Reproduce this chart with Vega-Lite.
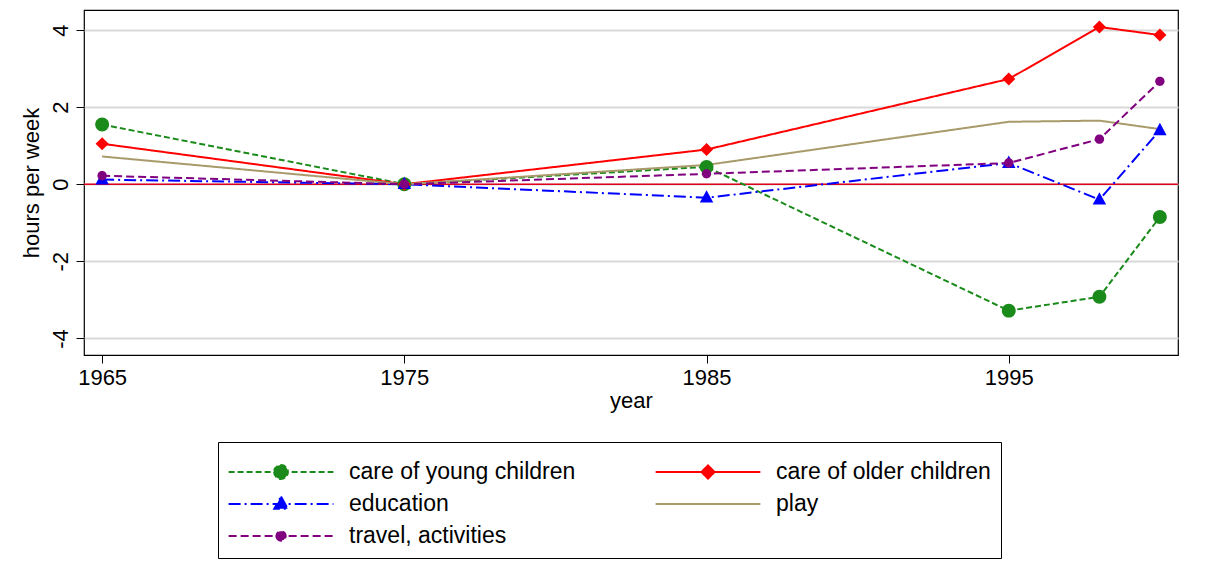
{
  "$schema": "https://vega.github.io/schema/vega-lite/v6.json",
  "width": 1094,
  "height": 345,
  "padding": {"left": 20, "top": 10, "right": 18, "bottom": 0},
  "background": "white",
  "config": {
    "font": "Liberation Sans",
    "view": {"stroke": "black", "strokeWidth": 1.2}
  },
  "data": {
    "values": [
      {"year": 1965, "series": "care of young children", "v": 1.55},
      {"year": 1975, "series": "care of young children", "v": 0},
      {"year": 1985, "series": "care of young children", "v": 0.45},
      {"year": 1995, "series": "care of young children", "v": -3.28},
      {"year": 1998, "series": "care of young children", "v": -2.92},
      {"year": 2000, "series": "care of young children", "v": -0.85},
      {"year": 1965, "series": "care of older children", "v": 1.05},
      {"year": 1975, "series": "care of older children", "v": 0},
      {"year": 1985, "series": "care of older children", "v": 0.9},
      {"year": 1995, "series": "care of older children", "v": 2.73},
      {"year": 1998, "series": "care of older children", "v": 4.08},
      {"year": 2000, "series": "care of older children", "v": 3.87},
      {"year": 1965, "series": "education", "v": 0.12},
      {"year": 1975, "series": "education", "v": 0},
      {"year": 1985, "series": "education", "v": -0.35},
      {"year": 1995, "series": "education", "v": 0.55},
      {"year": 1998, "series": "education", "v": -0.4},
      {"year": 2000, "series": "education", "v": 1.4},
      {"year": 1965, "series": "play", "v": 0.72},
      {"year": 1975, "series": "play", "v": 0},
      {"year": 1985, "series": "play", "v": 0.5},
      {"year": 1995, "series": "play", "v": 1.62},
      {"year": 1998, "series": "play", "v": 1.65},
      {"year": 2000, "series": "play", "v": 1.43},
      {"year": 1965, "series": "travel, activities", "v": 0.22},
      {"year": 1975, "series": "travel, activities", "v": 0},
      {"year": 1985, "series": "travel, activities", "v": 0.27},
      {"year": 1995, "series": "travel, activities", "v": 0.55},
      {"year": 1998, "series": "travel, activities", "v": 1.17},
      {"year": 2000, "series": "travel, activities", "v": 2.67}
    ]
  },
  "encoding": {
    "x": {
      "field": "year", "type": "quantitative",
      "scale": {"domain": [1964.4, 2000.6], "nice": false, "zero": false},
      "axis": {"values": [1965, 1975, 1985, 1995], "format": "d", "grid": false, "domain": false,
               "title": "year", "titleFontSize": 22, "titleFontWeight": "normal", "titlePadding": 2,
               "labelFontSize": 22, "labelColor": "black", "titleColor": "black",
               "tickColor": "black", "tickSize": 8, "labelPadding": 4}
    },
    "y": {
      "field": "v", "type": "quantitative",
      "scale": {"domain": [-4.43, 4.52], "nice": false},
      "axis": {"values": [-4, -2, 0, 2, 4], "grid": true, "gridColor": "#d9d9d9", "gridWidth": 2,
               "domain": false, "title": "hours per week", "titleFontSize": 22, "titleFontWeight": "normal",
               "labelFontSize": 22, "labelAngle": -90, "labelAlign": "center", "labelBaseline": "bottom",
               "labelExpr": "replace(datum.label, '\u2212', '-')",
               "labelColor": "black", "titleColor": "black", "tickColor": "black", "tickSize": 8,
               "labelPadding": 4, "titlePadding": 6}
    }
  },
  "layer": [
    {
      "mark": {"type": "rule", "color": "#e0001b", "strokeWidth": 1.5},
      "data": {"values": [{"z": 0}]},
      "encoding": {"y": {"field": "z", "type": "quantitative"}, "x": {}}
    },
    {
      "mark": {"type": "line", "strokeWidth": 2},
      "encoding": {
        "color": {
          "field": "series", "type": "nominal",
          "scale": {
            "domain": ["care of young children", "care of older children", "education", "play", "travel, activities"],
            "range": ["#1a8a1a", "#ff0000", "#0000ff", "#a89a6a", "#800080"]
          },
          "legend": {
            "orient": "none", "legendX": 134, "legendY": 432, "columns": 2, "direction": "horizontal", "title": null,
            "symbolType": "M-2.8,0H2.8", "symbolSize": 1400, "symbolStrokeWidth": 2,
            "symbolOffset": 33, "labelOffset": 48,
            "labelFontSize": 23, "labelColor": "black",
            "strokeColor": "black", "padding": 10, "columnPadding": 75, "rowPadding": 0,
            "labelLimit": 400,
            "encode": {"symbols": {"update": {
              "shape": {"signal": "datum.value === 'care of young children' ? 'M-2.8,0H2.8M-0.37,0A0.37,0.37 0 1,0 0.37,0A0.37,0.37 0 1,0 -0.37,0Z' : datum.value === 'care of older children' ? 'M-2.8,0H2.8M0,-0.35L0.35,0L0,0.35L-0.35,0Z' : datum.value === 'education' ? 'M-2.8,0H2.8M0,-0.4L0.36,0.26L-0.36,0.26Z' : datum.value === 'play' ? 'M-2.8,0H2.8' : 'M-2.8,0H2.8M-0.25,0A0.25,0.25 0 1,0 0.25,0A0.25,0.25 0 1,0 -0.25,0Z'"},
              "fill": {"scale": "color", "field": "value"},
              "fillOpacity": {"value": 1}, "opacity": {"value": 1}
            }}}
          }
        },
        "strokeDash": {
          "field": "series", "type": "nominal",
          "scale": {
            "domain": ["care of young children", "care of older children", "education", "play", "travel, activities"],
            "range": [[6, 3], [1, 0], [12, 4, 2, 4], [1, 0], [8, 4]]
          }
        }
      }
    },
    {
      "transform": [{"filter": "datum.series !== 'play'"}],
      "mark": {
        "type": "point", "filled": true, "opacity": 1, "size": 1400,
        "color": {"expr": "scale('color', datum.series)"},
        "shape": {"expr": "datum.series === 'care of young children' ? 'M-0.37,0A0.37,0.37 0 1,0 0.37,0A0.37,0.37 0 1,0 -0.37,0Z' : datum.series === 'care of older children' ? 'M0,-0.35L0.35,0L0,0.35L-0.35,0Z' : datum.series === 'education' ? 'M0,-0.4L0.36,0.26L-0.36,0.26Z' : 'M-0.25,0A0.25,0.25 0 1,0 0.25,0A0.25,0.25 0 1,0 -0.25,0Z'"}
      },
      "encoding": {}
    }
  ]
}
